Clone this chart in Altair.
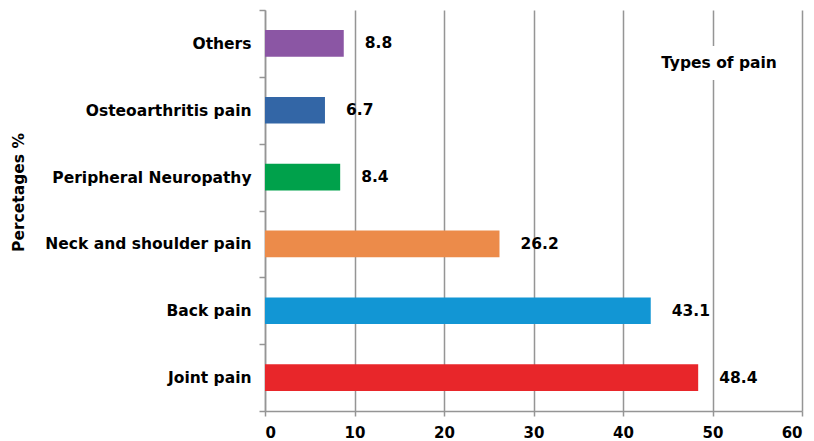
import altair as alt
import pandas as pd

categories = ["Others", "Osteoarthritis pain", "Peripheral Neuropathy",
              "Neck and shoulder pain", "Back pain", "Joint pain"]
values = [8.8, 6.7, 8.4, 26.2, 43.1, 48.4]
colors = ["#8B56A4", "#3366A6", "#00A14B", "#EC8B4A", "#1296D4", "#E8262A"]
x_ticks = [0, 10, 20, 30, 40, 50, 60]
annotation = "Types of pain"
y_title = "Percetages %"

df = pd.DataFrame({"cat": categories, "val": values,
                   "lbl": [f"{v:.1f}" for v in values]})

W, H = 537, 401
FONT = "DejaVu Sans"
GRID = "#959595"

y_enc = alt.Y("cat:N", sort=categories,
              scale=alt.Scale(paddingInner=0, paddingOuter=0),
              axis=alt.Axis(title=y_title, titleFontSize=15.5, titleFont=FONT,
                            titleFontWeight="bold", titleColor="black",
                            titleX=-247, titleY=182, titleAngle=270,
                            titleAlign="center", titleBaseline="middle",
                            labelFont=FONT, labelFontSize=15.5,
                            labelFontWeight="bold", labelColor="black",
                            labelLimit=400, labelPadding=8, tickBand="extent",
                            tickSize=6, tickColor=GRID, domainColor=GRID,
                            domainWidth=1.5, tickWidth=1.5, grid=False))

x_enc = alt.X("val:Q", scale=alt.Scale(domain=[0, 60], nice=False),
              axis=alt.Axis(values=x_ticks, title=None, labelFont=FONT,
                            labelFontSize=15, labelFontWeight="bold",
                            labelColor="black", labelPadding=9, tickSize=5,
                            tickColor=GRID, domainColor=GRID,
                            domainWidth=1.5, tickWidth=1.5, grid=True,
                            gridColor=GRID, gridWidth=1.5))

bars = alt.Chart(df).mark_bar(height={"band": 0.4}).encode(
    x=x_enc, y=y_enc,
    color=alt.Color("cat:N", scale=alt.Scale(domain=categories, range=colors),
                    legend=None))

labels = alt.Chart(df).mark_text(align="left", dx=21, font=FONT, fontSize=15.5,
                                 fontWeight="bold", color="black").encode(
    x="val:Q", y=alt.Y("cat:N", sort=categories), text="lbl:N")

box = alt.Chart(pd.DataFrame({"t": [annotation]})).mark_rect(color="white").encode(
    x=alt.value(390), x2=alt.value(518), y=alt.value(36), y2=alt.value(70))

note = alt.Chart(pd.DataFrame({"t": [annotation]})).mark_text(
    font=FONT, fontSize=15.5, fontWeight="bold", color="black").encode(
    x=alt.value(454), y=alt.value(53), text="t:N")

chart = alt.layer(bars, labels, box, note).properties(
    width=W, height=H,
    autosize=alt.AutoSizeParams(type="none"),
    padding={"left": 257, "top": 2, "right": 4, "bottom": 30}
).configure_view(stroke=None)

chart.save("out.html", embed_options={"renderer": "svg", "actions": False})
